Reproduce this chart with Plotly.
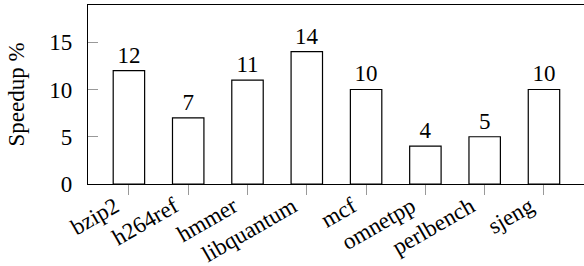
import plotly.graph_objects as go

categories = ["bzip2", "h264ref", "hmmer", "libquantum", "mcf", "omnetpp", "perlbench", "sjeng"]
speedup = [12, 7, 11, 14, 10, 4, 5, 10]
y_ticks = [0, 5, 10, 15]

FONT = "Liberation Serif, Times New Roman, serif"
FS = 23

fig = go.Figure()
fig.add_trace(go.Bar(
    x=list(range(len(categories))),
    y=speedup,
    width=0.53,
    marker=dict(color="white", line=dict(color="black", width=1.2)),
    text=[str(v) for v in speedup],
    textposition="outside",
    textfont=dict(family=FONT, size=FS, color="black"),
    cliponaxis=False,
    showlegend=False,
    hoverinfo="skip",
))

fig.update_layout(
    width=584, height=266,
    margin=dict(l=88, r=0, t=5, b=82, autoexpand=False),
    paper_bgcolor="white", plot_bgcolor="white",
    font=dict(family=FONT, size=FS, color="black"),
    uniformtext=dict(minsize=FS, mode="show"),
    xaxis=dict(
        range=[-0.69, 7.675],
        tickmode="array",
        tickvals=list(range(len(categories))),
        ticktext=categories,
        tickangle=-30,
        automargin=False,
        ticks="outside", ticklen=10, tickcolor="#999999", tickwidth=1,
        ticklabelstandoff=-11,
        ticklabelshift=-14,
        showline=True, linecolor="black", linewidth=1.2, mirror=True,
        showgrid=False, zeroline=False,
        tickfont=dict(family=FONT, size=FS),
    ),
    yaxis=dict(
        range=[0, 18.94],
        tickmode="array",
        tickvals=y_ticks,
        automargin=False,
        ticks="inside", ticklen=10, tickcolor="#999999", tickwidth=1,
        ticklabelstandoff=10,
        showline=True, linecolor="black", linewidth=1.2,
        showgrid=False, zeroline=False,
        tickfont=dict(family=FONT, size=FS),
        title=dict(text="Speedup %", font=dict(family=FONT, size=FS), standoff=18),
    ),
)

fig.write_html(
    "out.html",
    config={"displayModeBar": False, "staticPlot": True},
    post_script="document.body.style.margin='0';document.body.style.padding='0';",
)
